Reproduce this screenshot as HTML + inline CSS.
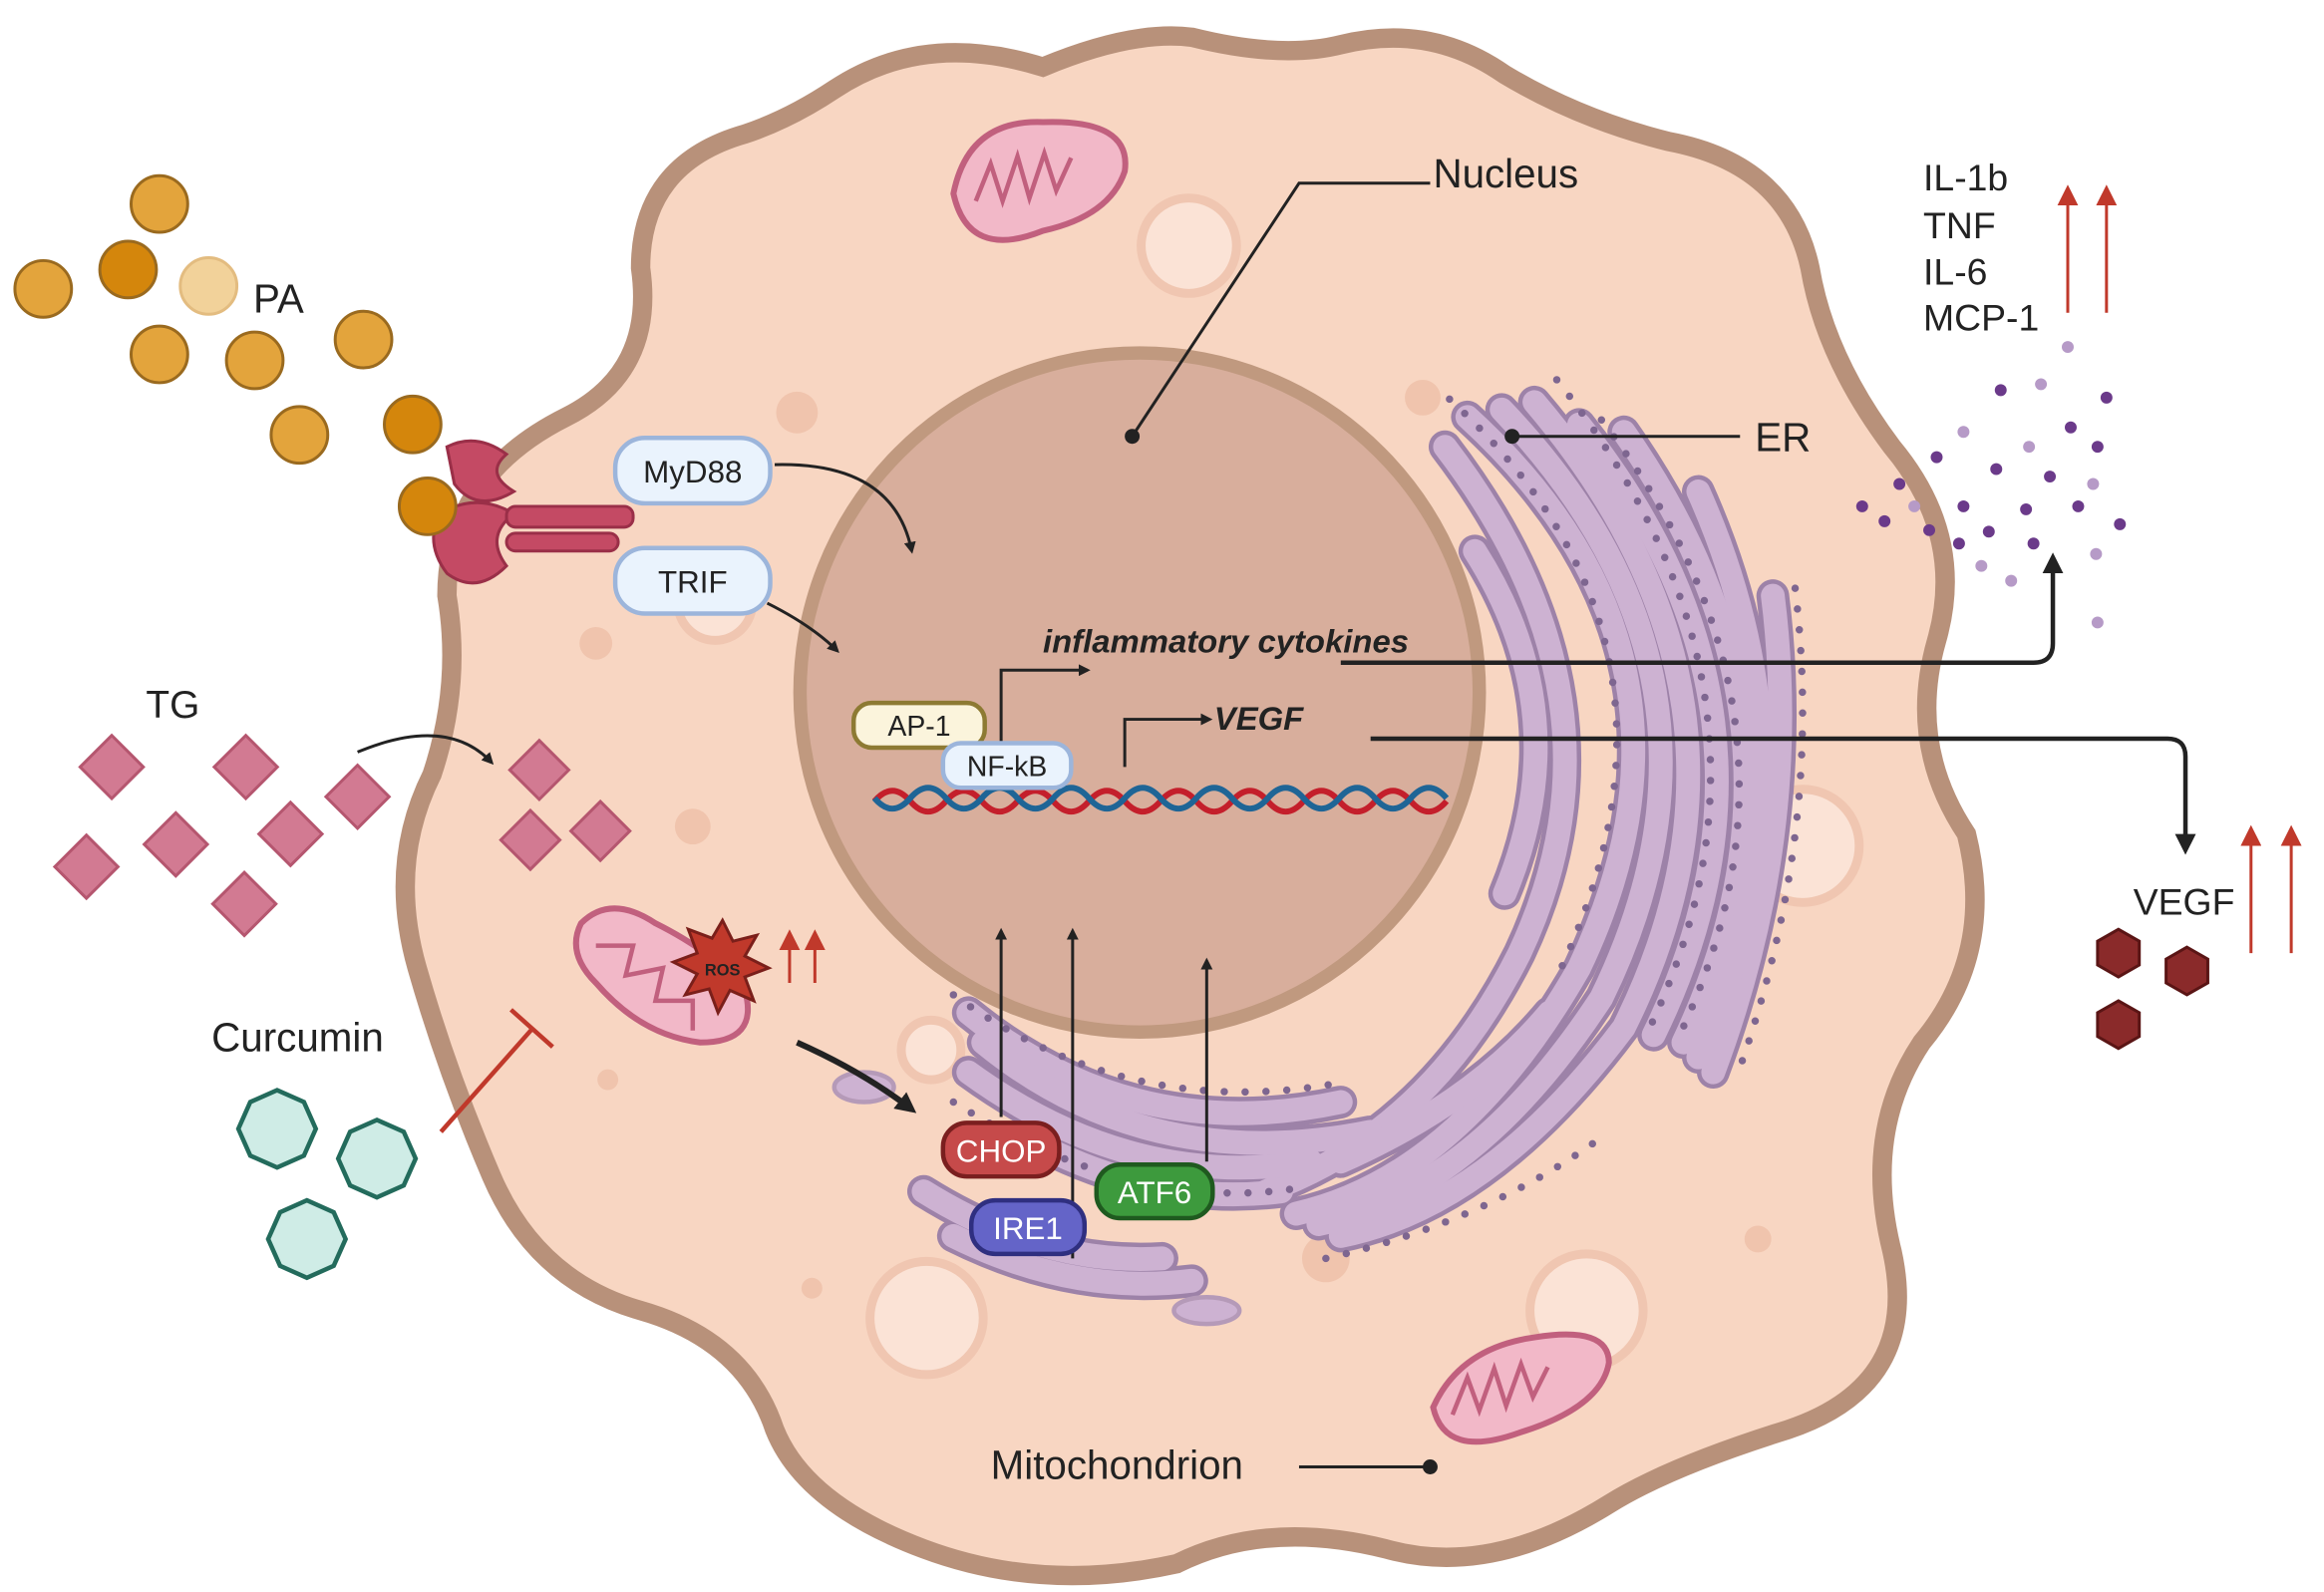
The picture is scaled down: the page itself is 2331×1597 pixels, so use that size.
<!DOCTYPE html>
<html><head><meta charset="utf-8"><style>
html,body{margin:0;padding:0;background:#fff}
svg{display:block}
text{font-family:"Liberation Sans",sans-serif}
</style></head><body>
<svg width="2331" height="1597" viewBox="0 0 1560 1069" preserveAspectRatio="none" xmlns="http://www.w3.org/2000/svg">
<defs>
<marker id="ah" markerWidth="8" markerHeight="8" refX="6" refY="4" orient="auto" markerUnits="userSpaceOnUse"><path d="M0,0 L8,4 L0,8 Z" fill="#222"/></marker>
<marker id="ahb" markerWidth="14" markerHeight="14" refX="10" refY="7" orient="auto" markerUnits="userSpaceOnUse"><path d="M0,0 L14,7 L0,14 Z" fill="#222"/></marker>
<marker id="ahr" markerWidth="14" markerHeight="14" refX="10" refY="7" orient="auto" markerUnits="userSpaceOnUse"><path d="M0,0 L14,7 L0,14 Z" fill="#c0392b"/></marker>
</defs>
<rect width="1560" height="1069" fill="#fff"/>
<path d="M560 60 Q620 20 700 45 Q760 20 800 25 Q860 40 900 30 Q960 15 1010 50 Q1060 80 1120 95 Q1200 110 1215 180 Q1225 240 1270 300 Q1320 360 1300 430 Q1280 500 1320 560 Q1340 640 1290 700 Q1250 760 1270 840 Q1290 930 1200 960 Q1120 985 1080 1010 Q1000 1060 930 1040 Q850 1020 790 1050 Q700 1070 620 1040 Q540 1010 520 960 Q500 900 430 880 Q360 860 330 790 Q300 720 280 650 Q260 580 290 520 Q310 460 300 400 Q300 320 380 280 Q440 250 430 180 Q430 110 500 90 Q530 80 560 60 Z" fill="#f8d6c2" stroke="#b8917a" stroke-width="13"/>
<g fill="#fbe3d6" stroke="#f0c6b1" stroke-width="6">
<circle cx="798" cy="165" r="32"/><circle cx="1210" cy="568" r="38"/><circle cx="1065" cy="880" r="38"/><circle cx="622" cy="885" r="38"/><circle cx="480" cy="405" r="25"/><circle cx="625" cy="705" r="20"/>
</g>
<g fill="#f0c4ad"><circle cx="535" cy="277" r="14"/><circle cx="400" cy="432" r="11"/><circle cx="465" cy="555" r="12"/><circle cx="955" cy="267" r="12"/><circle cx="890" cy="845" r="16"/><circle cx="1180" cy="832" r="9"/><circle cx="408" cy="725" r="7"/><circle cx="545" cy="865" r="7"/></g>
<circle cx="765" cy="465" r="228" fill="#d8ae9c" stroke="#c0997f" stroke-width="9"/>
<!-- ER -->
<g fill="none" stroke-linecap="round">
<g stroke="#9d82a8" stroke-width="22">
<path d="M985 280 Q1160 440 1060 650 Q980 790 870 815"/>
<path d="M1030 270 Q1200 470 1090 690 Q1000 810 900 830"/>
<path d="M1090 290 Q1230 490 1130 700"/>
<path d="M1190 400 Q1210 560 1150 720"/>
<path d="M970 300 Q1100 470 1020 640 Q960 760 850 800"/>
<path d="M1008 275 Q1180 455 1075 670 Q990 800 885 822"/>
<path d="M1060 285 Q1215 480 1110 695"/>
<path d="M1140 330 Q1225 520 1140 710"/>
<path d="M990 370 Q1060 480 1010 600"/>
<path d="M650 680 Q760 770 900 740"/>
<path d="M650 720 Q760 800 880 780"/>
<path d="M700 770 Q780 810 860 800"/>
<path d="M620 800 Q700 850 780 845"/>
<path d="M660 700 Q770 790 920 760"/>
<path d="M900 780 Q990 740 1040 680"/>
<path d="M640 830 Q720 870 800 860"/>
</g>
<g stroke="#cdb2d2" stroke-width="16">
<path d="M985 280 Q1160 440 1060 650 Q980 790 870 815"/>
<path d="M1030 270 Q1200 470 1090 690 Q1000 810 900 830"/>
<path d="M1090 290 Q1230 490 1130 700"/>
<path d="M1190 400 Q1210 560 1150 720"/>
<path d="M970 300 Q1100 470 1020 640 Q960 760 850 800"/>
<path d="M1008 275 Q1180 455 1075 670 Q990 800 885 822"/>
<path d="M1060 285 Q1215 480 1110 695"/>
<path d="M1140 330 Q1225 520 1140 710"/>
<path d="M990 370 Q1060 480 1010 600"/>
<path d="M650 680 Q760 770 900 740"/>
<path d="M650 720 Q760 800 880 780"/>
<path d="M700 770 Q780 810 860 800"/>
<path d="M620 800 Q700 850 780 845"/>
<path d="M660 700 Q770 790 920 760"/>
<path d="M900 780 Q990 740 1040 680"/>
<path d="M640 830 Q720 870 800 860"/>
</g>
<g stroke="#7e6690" stroke-width="5" stroke-dasharray="0 14">
<path d="M973 268 Q1150 430 1048 650"/><path d="M1045 255 Q1215 470 1105 695"/><path d="M1205 395 Q1225 560 1165 725"/><path d="M640 668 Q760 755 905 726"/><path d="M890 845 Q1000 820 1080 760"/><path d="M1075 282 Q1230 485 1125 700"/><path d="M640 740 Q760 815 870 798"/>
</g>
</g>
<ellipse cx="810" cy="880" rx="22" ry="9" fill="#cdb2d2" stroke="#b59ab8" stroke-width="3"/>
<ellipse cx="580" cy="730" rx="20" ry="10" fill="#cdb2d2" stroke="#b59ab8" stroke-width="3"/>
<g stroke="#c1607e" stroke-width="4" fill="#f2b8c8">
<path d="M640 130 Q650 80 700 82 Q760 80 755 115 Q745 145 700 155 Q650 175 640 130 Z"/>
<path d="M390 620 Q410 600 440 620 Q480 640 500 665 Q510 700 470 700 Q430 695 400 660 Q380 640 390 620 Z"/>
<path d="M962 945 Q980 905 1030 898 Q1080 890 1080 915 Q1075 945 1020 962 Q970 980 962 945 Z"/>
</g>
<g fill="none" stroke="#c1607e" stroke-width="3">
<path d="M655 135 l10 -25 l8 25 l10 -30 l8 28 l10 -30 l8 25 l10 -22"/>
<path d="M400 635 l25 0 l-5 20 l25 -5 l-5 22 l25 0 l0 20"/>
<path d="M975 950 l10 -25 l8 22 l10 -28 l8 25 l10 -28 l8 22 l10 -20"/>
</g>
<polygon points="485,618 492,632 508,628 500,642 516,650 500,656 506,672 490,665 482,680 476,664 460,668 468,654 452,646 468,640 462,624 478,630" fill="#c0392b" stroke="#7a1f1a" stroke-width="2"/>
<text x="485" y="655" font-size="11" font-weight="bold" text-anchor="middle" fill="#222">ROS</text>
<g stroke="#c0392b" stroke-width="2"><line x1="530" y1="660" x2="530" y2="628" marker-end="url(#ahr)"/><line x1="547" y1="660" x2="547" y2="628" marker-end="url(#ahr)"/></g>
<path d="M587 540 q12 -14 24 0 t24 0 t24 0 t24 0 t24 0 t24 0 t24 0 t24 0 t24 0 t24 0 t24 0 t24 0 t24 0 t24 0 t24 0 t24 0" fill="none" stroke="#c41f2b" stroke-width="4" transform="translate(0,-2)"/>
<path d="M587 528 q12 14 24 0 t24 0 t24 0 t24 0 t24 0 t24 0 t24 0 t24 0 t24 0 t24 0 t24 0 t24 0 t24 0 t24 0 t24 0 t24 0" fill="none" stroke="#1f6596" stroke-width="4" transform="translate(0,8)"/>
<text x="700" y="438" font-size="22" font-weight="bold" font-style="italic" fill="#222">inflammatory cytokines</text>
<text x="815" y="490" font-size="22" font-weight="bold" font-style="italic" fill="#222">VEGF</text>
<g fill="none" stroke="#222" stroke-width="2">
<path d="M672 498 V450 H730" marker-end="url(#ah)"/>
<path d="M755 515 V483 H812" marker-end="url(#ah)"/>
<path d="M900 445 H1365 Q1378 445 1378 432 V375" stroke-width="3" marker-end="url(#ahb)"/>
<path d="M920 496 H1455 Q1467 496 1467 508 V570" stroke-width="3" marker-end="url(#ahb)"/>
<path d="M672 750 V625" marker-end="url(#ah)"/>
<path d="M720 845 V625" marker-end="url(#ah)"/>
<path d="M810 780 V645" marker-end="url(#ah)"/>
<path d="M520 312 Q600 310 612 370" marker-end="url(#ah)"/>
<path d="M515 405 Q545 420 562 437" marker-end="url(#ah)"/>
<path d="M240 505 Q300 480 330 512" marker-end="url(#ah)"/>
<path d="M535 700 Q580 720 612 745" stroke-width="4" marker-end="url(#ahb)"/>
<path d="M760 293 L872 123 H960"/>
<path d="M1015 293 H1168"/>
<path d="M872 985 H958"/>
</g>
<g fill="#222"><circle cx="760" cy="293" r="5"/><circle cx="1015" cy="293" r="5"/><circle cx="960" cy="985" r="5"/></g>
<rect x="573" y="472" width="88" height="30" rx="12" fill="#fbf4dc" stroke="#8d7a33" stroke-width="3"/>
<text x="617" y="494" font-size="19" text-anchor="middle" fill="#222">AP-1</text>
<rect x="633" y="499" width="86" height="30" rx="12" fill="#eaf3fd" stroke="#9cb5db" stroke-width="3"/>
<text x="676" y="521" font-size="19" text-anchor="middle" fill="#222">NF-kB</text>
<rect x="413" y="294" width="104" height="44" rx="20" fill="#eaf3fd" stroke="#9cb5db" stroke-width="3"/>
<text x="465" y="324" font-size="21" text-anchor="middle" fill="#222">MyD88</text>
<rect x="413" y="368" width="104" height="44" rx="20" fill="#eaf3fd" stroke="#9cb5db" stroke-width="3"/>
<text x="465" y="398" font-size="21" text-anchor="middle" fill="#222">TRIF</text>
<rect x="633" y="754" width="78" height="36" rx="16" fill="#c64a4a" stroke="#7a1f1f" stroke-width="3"/>
<text x="672" y="780" font-size="21" text-anchor="middle" fill="#fff">CHOP</text>
<rect x="652" y="806" width="76" height="36" rx="16" fill="#6464c8" stroke="#2f2f80" stroke-width="3"/>
<text x="690" y="832" font-size="21" text-anchor="middle" fill="#fff">IRE1</text>
<rect x="736" y="782" width="78" height="36" rx="16" fill="#3d9a3d" stroke="#1f5a1f" stroke-width="3"/>
<text x="775" y="808" font-size="21" text-anchor="middle" fill="#fff">ATF6</text>
<g fill="#c44a64" stroke="#9a2f48" stroke-width="2">
<path d="M300 300 Q320 290 340 305 Q325 318 345 330 Q320 345 305 325 Z"/>
<path d="M295 345 Q320 330 345 345 Q325 360 340 380 Q320 400 300 385 Q285 365 295 345 Z"/>
<rect x="340" y="340" width="85" height="14" rx="6"/>
<rect x="340" y="358" width="75" height="12" rx="6"/>
</g>
<g stroke="#9a6a1f" stroke-width="2">
<g fill="#e3a43c"><circle cx="107" cy="137" r="19"/><circle cx="29" cy="194" r="19"/><circle cx="107" cy="238" r="19"/><circle cx="171" cy="242" r="19"/><circle cx="244" cy="228" r="19"/><circle cx="201" cy="292" r="19"/></g>
<g fill="#d4860c"><circle cx="86" cy="181" r="19"/><circle cx="277" cy="285" r="19"/><circle cx="287" cy="340" r="19"/></g>
<circle cx="140" cy="192" r="19" fill="#f2d29a" stroke="#e3bc80"/>
</g>
<text x="170" y="210" font-size="27" fill="#222">PA</text>
<text x="98" y="482" font-size="26" fill="#222">TG</text>
<g fill="#d27a92" stroke="#b5566f" stroke-width="2">
<rect x="-15" y="-15" width="30" height="30" transform="translate(75,515) rotate(45)"/>
<rect x="-15" y="-15" width="30" height="30" transform="translate(165,515) rotate(45)"/>
<rect x="-15" y="-15" width="30" height="30" transform="translate(240,535) rotate(45)"/>
<rect x="-15" y="-15" width="30" height="30" transform="translate(118,567) rotate(45)"/>
<rect x="-15" y="-15" width="30" height="30" transform="translate(195,560) rotate(45)"/>
<rect x="-15" y="-15" width="30" height="30" transform="translate(58,582) rotate(45)"/>
<rect x="-15" y="-15" width="30" height="30" transform="translate(164,607) rotate(45)"/>
<rect x="-14" y="-14" width="28" height="28" transform="translate(362,517) rotate(45)"/>
<rect x="-14" y="-14" width="28" height="28" transform="translate(356,564) rotate(45)"/>
<rect x="-14" y="-14" width="28" height="28" transform="translate(403,558) rotate(45)"/>
</g>
<text x="142" y="706" font-size="27" fill="#222">Curcumin</text>
<g fill="#cfece6" stroke="#236b5c" stroke-width="3">
<polygon points="186,732 204,740 212,758 204,776 186,784 168,776 160,758 168,740"/>
<polygon points="253,752 271,760 279,778 271,796 253,804 235,796 227,778 235,760"/>
<polygon points="206,806 224,814 232,832 224,850 206,858 188,850 180,832 188,814"/>
</g>
<g stroke="#c0392b" stroke-width="3"><line x1="296" y1="760" x2="358" y2="690"/><line x1="343" y1="678" x2="371" y2="703"/></g>
<text x="962" y="126" font-size="27" fill="#222">Nucleus</text>
<text x="1178" y="303" font-size="27" fill="#222">ER</text>
<text x="665" y="993" font-size="27" fill="#222">Mitochondrion</text>
<g font-size="25" fill="#222"><text x="1291" y="128">IL-1b</text><text x="1291" y="160">TNF</text><text x="1291" y="191">IL-6</text><text x="1291" y="222">MCP-1</text></g>
<g stroke="#c0392b" stroke-width="2"><line x1="1388" y1="210" x2="1388" y2="128" marker-end="url(#ahr)"/><line x1="1414" y1="210" x2="1414" y2="128" marker-end="url(#ahr)"/>
<line x1="1511" y1="640" x2="1511" y2="558" marker-end="url(#ahr)"/><line x1="1538" y1="640" x2="1538" y2="558" marker-end="url(#ahr)"/></g>
<text x="1432" y="614" font-size="25" fill="#222">VEGF</text>
<g fill="#8a2a2a" stroke="#5a1515" stroke-width="2">
<polygon points="1422,624 1436,632 1436,648 1422,656 1408,648 1408,632"/>
<polygon points="1468,636 1482,644 1482,660 1468,668 1454,660 1454,644"/>
<polygon points="1422,672 1436,680 1436,696 1422,704 1408,696 1408,680"/>
</g>
<g fill="#6b3a8a">
<circle cx="1343" cy="262" r="4"/><circle cx="1390" cy="287" r="4"/><circle cx="1414" cy="267" r="4"/><circle cx="1300" cy="307" r="4"/><circle cx="1340" cy="315" r="4"/><circle cx="1376" cy="320" r="4"/><circle cx="1275" cy="325" r="4"/><circle cx="1318" cy="340" r="4"/><circle cx="1360" cy="342" r="4"/><circle cx="1395" cy="340" r="4"/><circle cx="1250" cy="340" r="4"/><circle cx="1265" cy="350" r="4"/><circle cx="1295" cy="356" r="4"/><circle cx="1335" cy="357" r="4"/><circle cx="1423" cy="352" r="4"/><circle cx="1365" cy="365" r="4"/><circle cx="1315" cy="365" r="4"/><circle cx="1408" cy="300" r="4"/></g>
<g fill="#b69ac7"><circle cx="1388" cy="233" r="4"/><circle cx="1370" cy="258" r="4"/><circle cx="1318" cy="290" r="4"/><circle cx="1362" cy="300" r="4"/><circle cx="1405" cy="325" r="4"/><circle cx="1285" cy="340" r="4"/><circle cx="1350" cy="390" r="4"/><circle cx="1407" cy="372" r="4"/><circle cx="1408" cy="418" r="4"/><circle cx="1330" cy="380" r="4"/></g>
</svg>
</body></html>
